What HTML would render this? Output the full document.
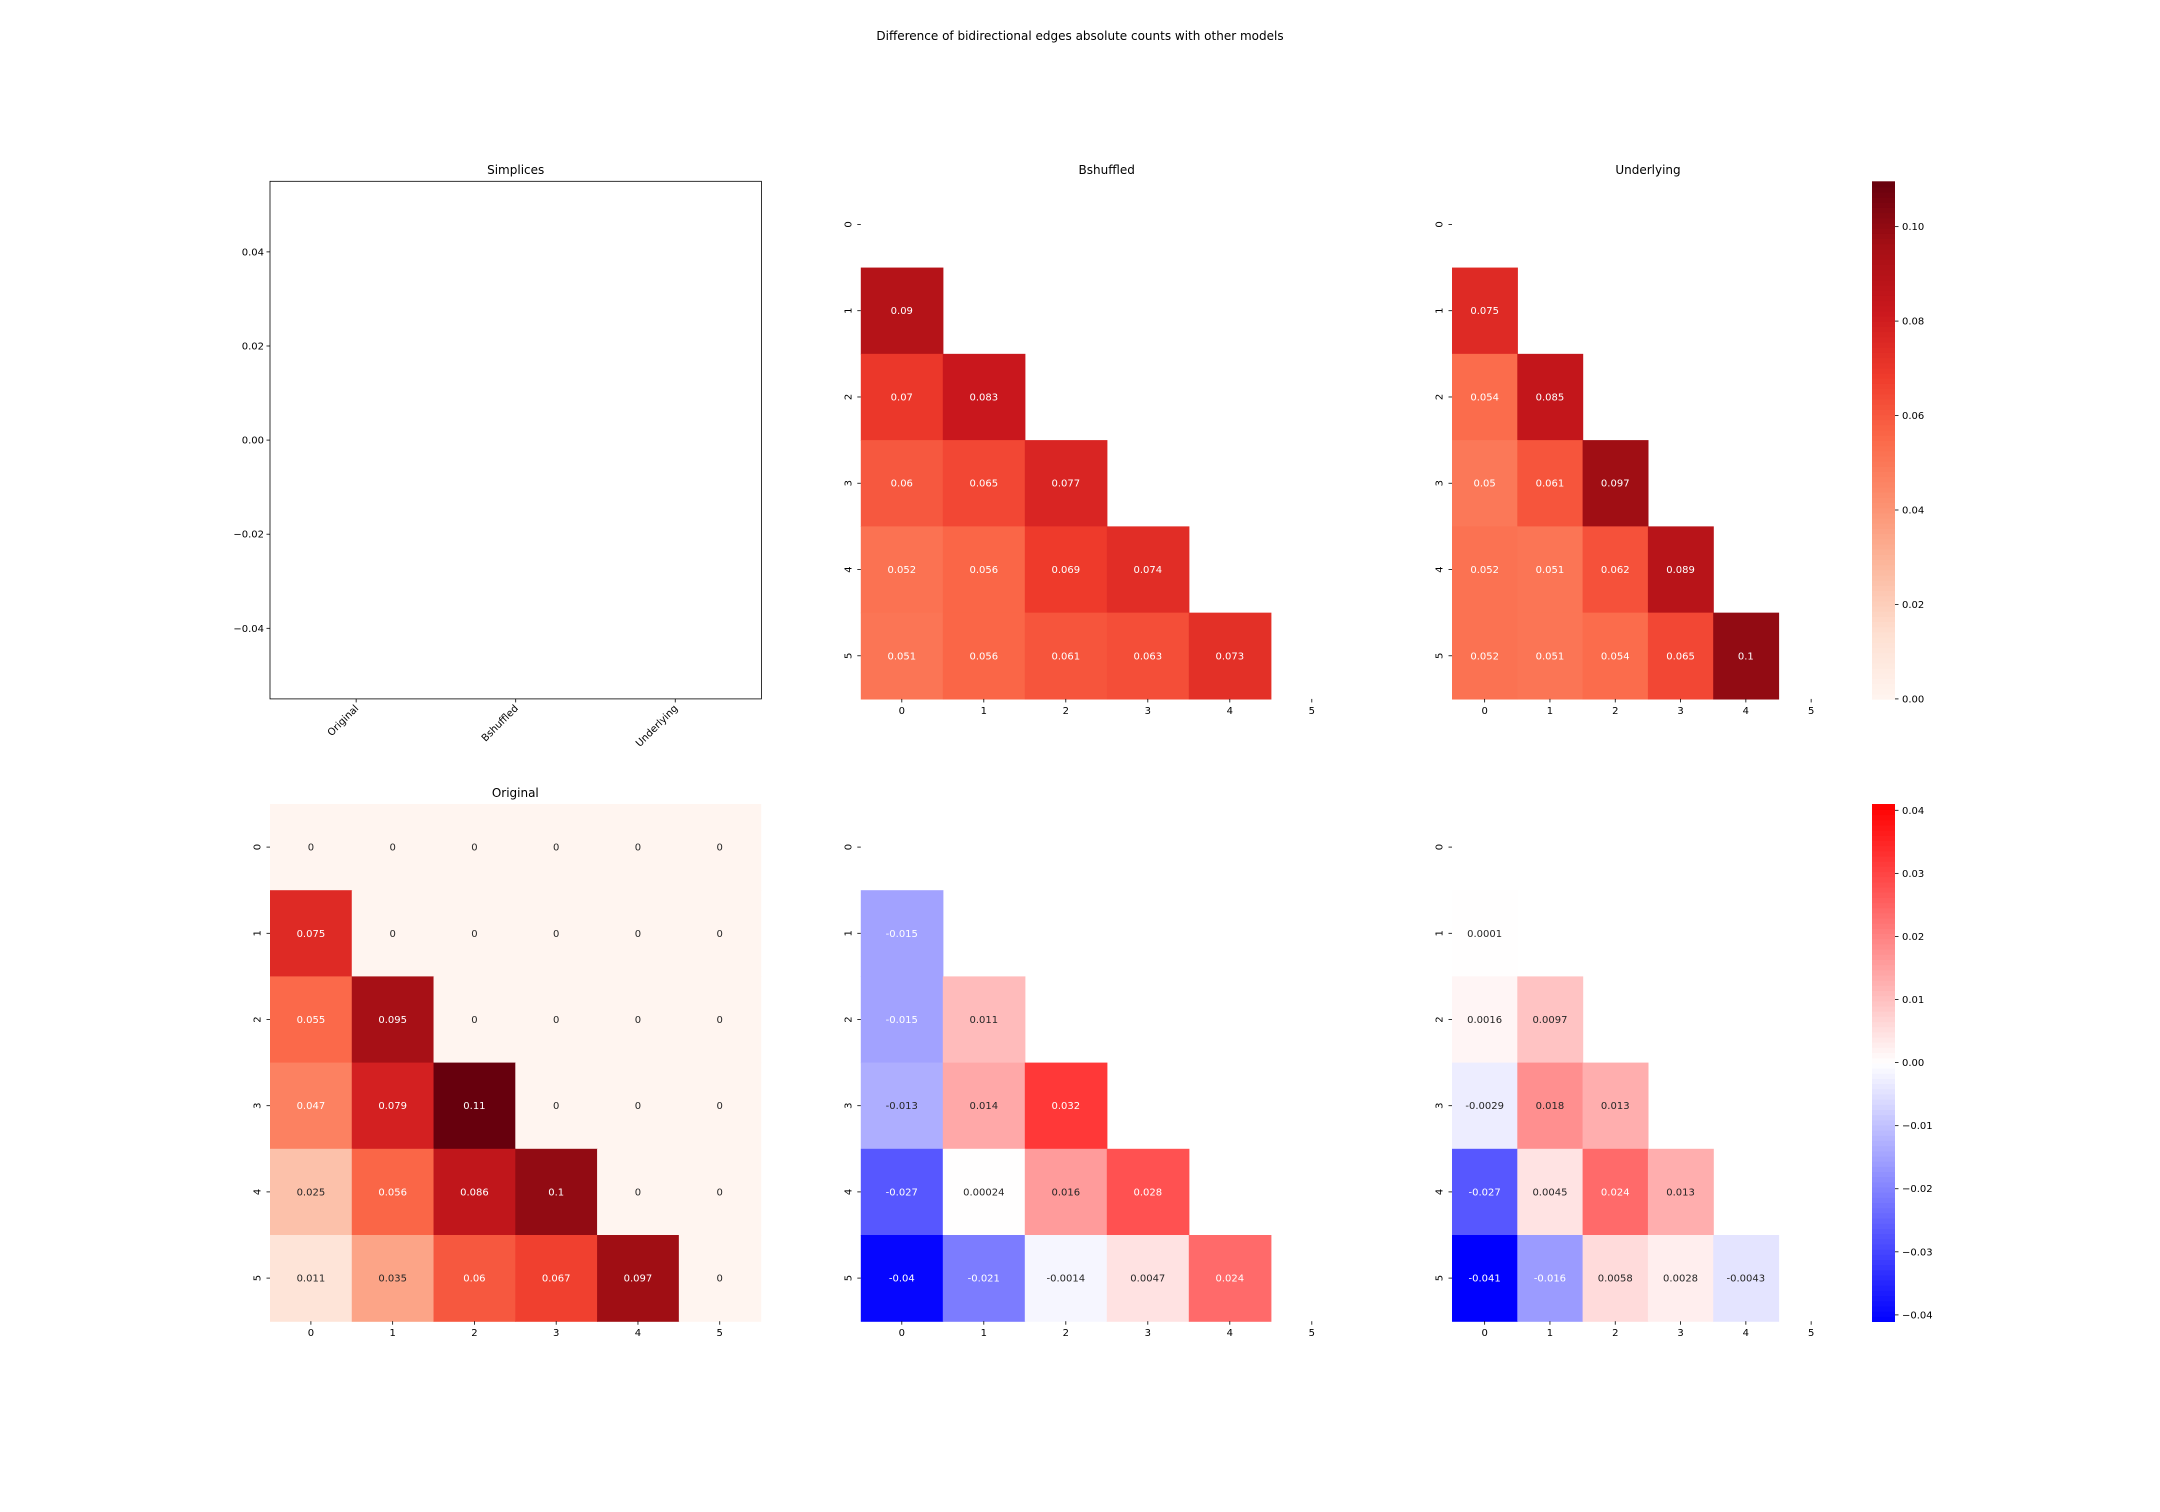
<!DOCTYPE html>
<html><head><meta charset="utf-8">
<style>
html,body{margin:0;padding:0;background:#fff;}
svg{display:block;font-family:"DejaVu Sans","Liberation Sans",sans-serif;}
</style></head>
<body>
<svg id="fig" width="2160" height="1512" viewBox="0 0 2160 1512" xmlns="http://www.w3.org/2000/svg">
<rect width="2160" height="1512" fill="#fff"/>
<text x="1080" y="40" font-size="12" text-anchor="middle" fill="#000">Difference of bidirectional edges absolute counts with other models</text>
</svg>
<script>
// ---- data ----
var labels = ["0","1","2","3","4","5"];
var simplexCats = ["Original","Bshuffled","Underlying"];
var simplexYTicks = [0.04,0.02,0.00,-0.02,-0.04];
var originalRow0 = [0,0,0,0,0,0];
var originalRow1 = [0.075,0,0,0,0,0];
var originalRow2 = [0.055,0.095,0,0,0,0];
var originalRow3 = [0.047,0.079,0.11,0,0,0];
var originalRow4 = [0.025,0.056,0.086,0.1,0,0];
var originalRow5 = [0.011,0.035,0.06,0.067,0.097,0];
var bshuffledRows = [[],[0.09],[0.07,0.083],[0.06,0.065,0.077],[0.052,0.056,0.069,0.074],[0.051,0.056,0.061,0.063,0.073]];
var underlyingRows = [[],[0.075],[0.054,0.085],[0.05,0.061,0.097],[0.052,0.051,0.062,0.089],[0.052,0.051,0.054,0.065,0.1]];
var diffBshuffledRows = [[],[-0.015],[-0.015,0.011],[-0.013,0.014,0.032],[-0.027,0.00024,0.016,0.028],[-0.04,-0.021,-0.0014,0.0047,0.024]];
var diffUnderlyingRows = [[],[0.0001],[0.0016,0.0097],[-0.0029,0.018,0.013],[-0.027,0.0045,0.024,0.013],[-0.041,-0.016,0.0058,0.0028,-0.0043]];
var redsTicks = [0.00,0.02,0.04,0.06,0.08,0.10];
var redsTickLabels = ["0.00","0.02","0.04","0.06","0.08","0.10"];
var bwrTicks = [0.04,0.03,0.02,0.01,0.00,-0.01,-0.02,-0.03,-0.04];
var bwrTickLabels = ["0.04","0.03","0.02","0.01","0.00","\u22120.01","\u22120.02","\u22120.03","\u22120.04"];
var redsRange = [0, 0.1096];
var bwrRange = [-0.041, 0.041];

var NS="http://www.w3.org/2000/svg";
var svg=document.getElementById('fig');
function mk(tag,attrs,parent){var e=document.createElementNS(NS,tag);for(var k in attrs)e.setAttribute(k,attrs[k]);(parent||svg).appendChild(e);return e;}

var redsStops=["#fff5f0","#fee0d2","#fcbba1","#fc9272","#fb6a4a","#ef3b2c","#cb181d","#a50f15","#67000d"];
function hex(h){return [parseInt(h.substr(1,2),16),parseInt(h.substr(3,2),16),parseInt(h.substr(5,2),16)];}
function reds(t){t=Math.max(0,Math.min(1,t));var p=t*8,i=Math.min(7,Math.floor(p)),f=p-i;var a=hex(redsStops[i]),b=hex(redsStops[i+1]);return [0,1,2].map(function(k){return Math.round(a[k]+(b[k]-a[k])*f);});}
function bwr(t){t=Math.max(0,Math.min(1,t));if(t<0.5){var v=Math.round(255*t*2);return [v,v,255];}var w=Math.round(255*(1-t)*2);return [255,w,w];}
function rgb(c){return "rgb("+c[0]+","+c[1]+","+c[2]+")";}
function lum(c){var l=c.map(function(v){v/=255;return v<=0.03928?v/12.92:Math.pow((v+0.055)/1.055,2.4);});return 0.2126*l[0]+0.7152*l[1]+0.0722*l[2];}

function title(x,y,txt,name){var t=mk('text',{x:x,y:y,'font-size':12,'text-anchor':'middle',fill:'#000'});t.textContent=txt;

}

function heatmap(name,left,top,cw,ch,rows,cmap,range){
  var g=mk('g',{});
  
  
  function xs(i){return left+i*cw;}
  function ys(j){return top+j*ch;}
  for(var r=0;r<6;r++){
    var row=rows[r];
    for(var c=0;c<row.length;c++){
      var v=row[c];
      var col=cmap((v-range[0])/(range[1]-range[0]));
      var rect=mk('rect',{x:xs(c),y:ys(r),width:cw+0.6,height:ch+0.6,fill:rgb(col)},g);
      
      
      var t=mk('text',{x:xs(c)+cw/2,y:ys(r)+ch/2+3.5,'font-size':10,'text-anchor':'middle',fill:lum(col)<0.408?'#fff':'#262626'},g);
      t.textContent=String(v);
      
      
    }
  }
  for(var i=0;i<6;i++){
    var cx=xs(i)+cw/2, cy=ys(i)+ch/2, bot=top+6*ch;
    mk('line',{x1:cx,y1:bot,x2:cx,y2:bot+3.5,stroke:'#000','stroke-width':0.8},g);
    var tx=mk('text',{x:cx,y:bot+15,'font-size':10,'text-anchor':'middle',fill:'#000'},g);
    tx.textContent=labels[i];
    
    
    mk('line',{x1:left-3.5,y1:cy,x2:left,y2:cy,stroke:'#000','stroke-width':0.8},g);
    var ty=mk('text',{x:0,y:0,'font-size':10,'text-anchor':'middle',fill:'#000',transform:'translate('+(left-9.5)+','+cy+') rotate(-90)'},g);
    ty.textContent=labels[i];
    
    
  }
}

function colorbar(name,left,top,w,h,cmap,range,ticks,tlabels){
  var g=mk('g',{});
  
  
  var n=100;
  for(var i=0;i<n;i++){
    var t0=i/n;
    var r=mk('rect',{x:left,y:top+h-(i+1)*h/n,width:w,height:h/n+0.8,fill:rgb(cmap(t0+0.5/n))},g);
    
    
  }
  for(var k=0;k<ticks.length;k++){
    var y=top+h-(ticks[k]-range[0])/(range[1]-range[0])*h;
    mk('line',{x1:left+w,y1:y,x2:left+w+3.5,y2:y,stroke:'#000','stroke-width':0.8},g);
    var tl=mk('text',{x:left+w+7,y:y+3.5,'font-size':10,fill:'#000'},g);
    tl.textContent=tlabels[k];
    
    
  }
}

// Simplices empty axes
(function(){
  var L=270,T=181.3,W=491.4,H=517.6;
  var g=mk('g',{});
  
  
  var ymin=-0.055,ymax=0.055,xmin=-0.54,xmax=2.54;
  function ys(v){return T+(ymax-v)/(ymax-ymin)*H;}
  function xs(v){return L+(v-xmin)/(xmax-xmin)*W;}
  mk('rect',{x:L,y:T,width:W,height:H,fill:'none',stroke:'#000','stroke-width':0.8},g);
  simplexYTicks.forEach(function(v){
    var y=ys(v);
    mk('line',{x1:L-3.5,y1:y,x2:L,y2:y,stroke:'#000','stroke-width':0.8},g);
    var t=mk('text',{x:L-6,y:y+3.5,'font-size':10,'text-anchor':'end',fill:'#000'},g);
    t.textContent=(v<0?'\u2212':'')+Math.abs(v).toFixed(2);
    
    
  });
  simplexCats.forEach(function(c,i){
    var x=xs(i),b=T+H;
    mk('line',{x1:x,y1:b,x2:x,y2:b+3.5,stroke:'#000','stroke-width':0.8},g);
    var t=mk('text',{x:0,y:0,'font-size':10,'text-anchor':'end',fill:'#000',transform:'translate('+(x+3)+','+(b+10)+') rotate(-45)'},g);
    t.textContent=c;
    
    
  });
})();
title(515.7,174,"Simplices","simplices-title");
title(1106.7,174,"Bshuffled","bshuffled-title");
title(1648,174,"Underlying","underlying-title");
title(515.3,797,"Original","original-title");

var originalRows=[originalRow0,originalRow1,originalRow2,originalRow3,originalRow4,originalRow5];
heatmap('bshuffled-heatmap',860.8,181.3,82,86.27,bshuffledRows,reds,redsRange);
heatmap('underlying-heatmap',1452,181.3,65.3,86.27,underlyingRows,reds,redsRange);
colorbar('reds-colorbar',1872,181.3,23,517.6,reds,redsRange,redsTicks,redsTickLabels);
heatmap('original-heatmap',270,804,81.77,86.2,originalRows,reds,redsRange);
heatmap('bshuffled-diff-heatmap',860.8,804,82,86.2,diffBshuffledRows,bwr,bwrRange);
heatmap('underlying-diff-heatmap',1452,804,65.3,86.2,diffUnderlyingRows,bwr,bwrRange);
colorbar('bwr-colorbar',1872,804,23,517.2,bwr,bwrRange,bwrTicks,bwrTickLabels);
</script>
</body></html>
